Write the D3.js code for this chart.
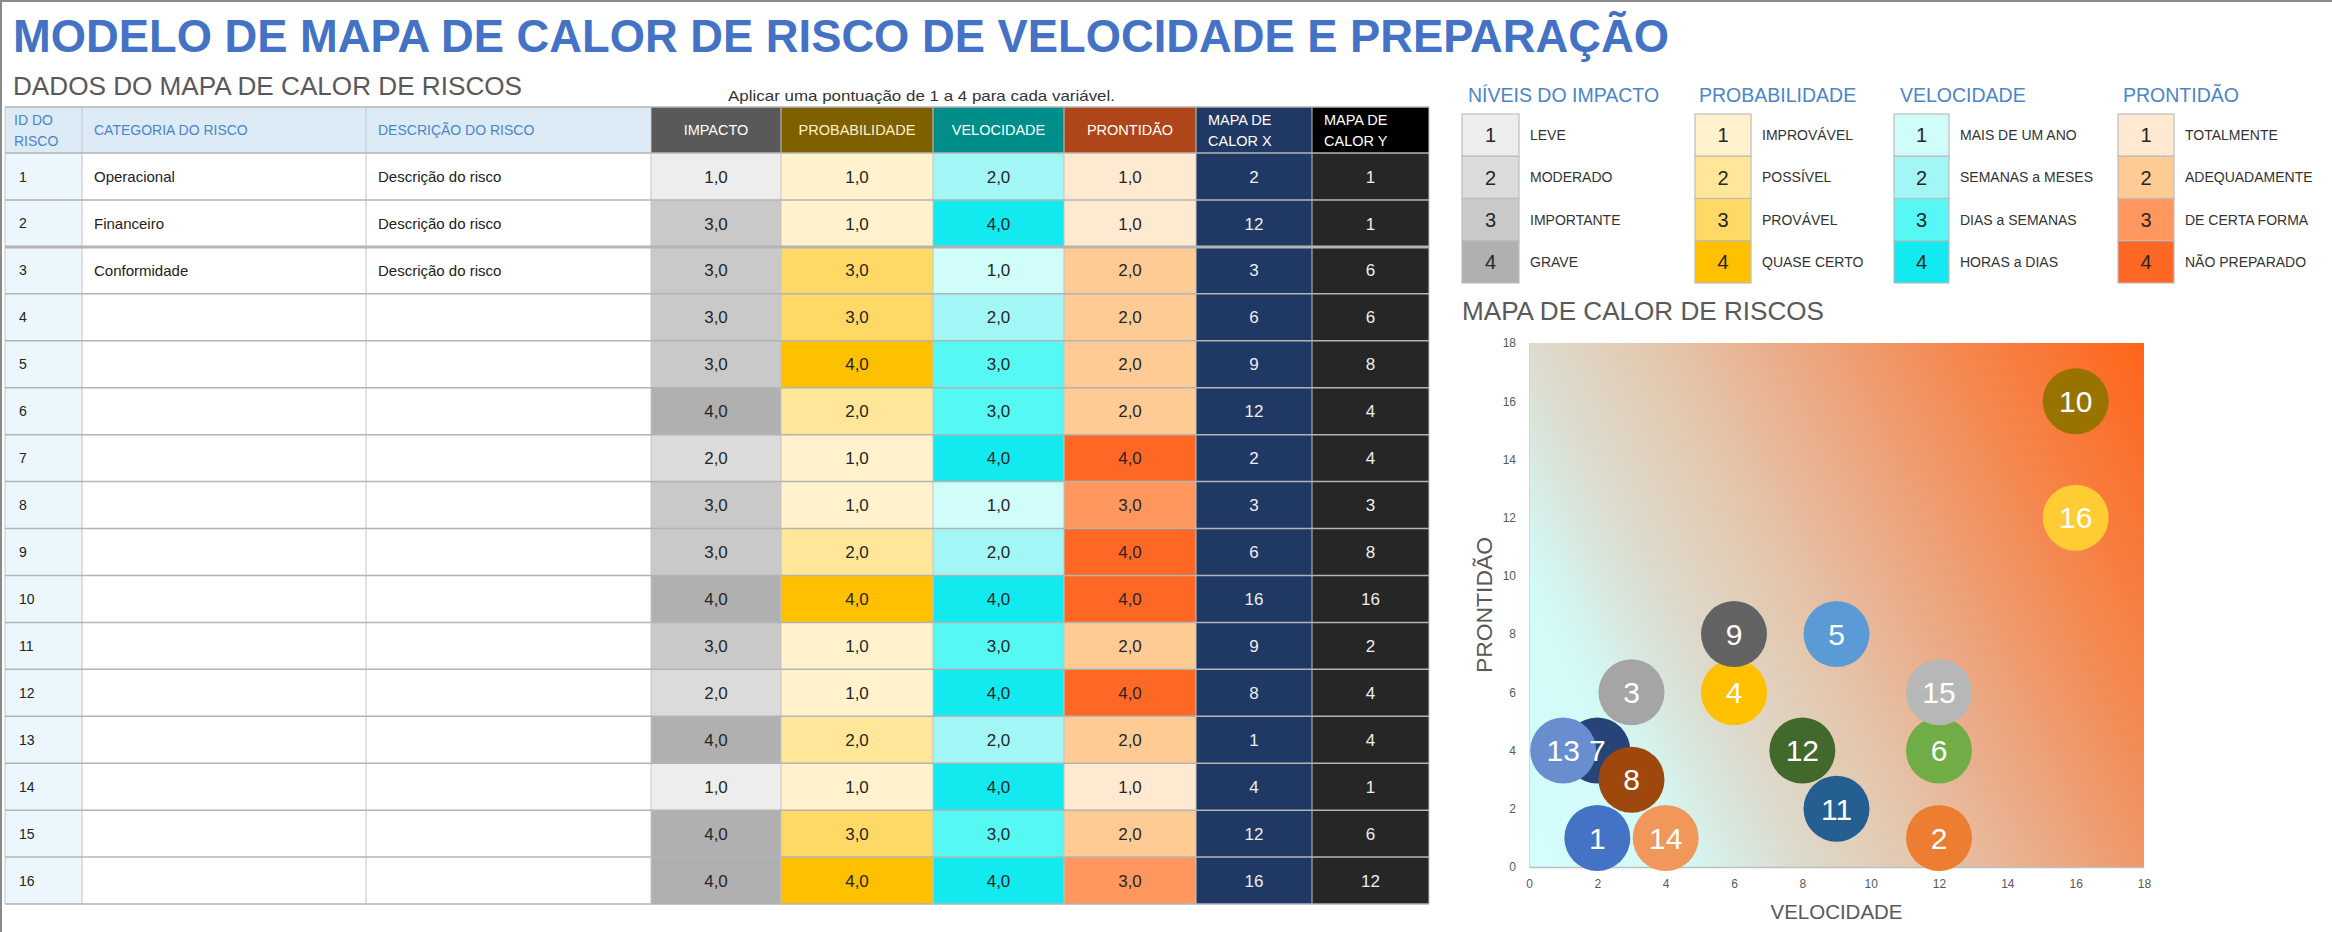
<!DOCTYPE html>
<html><head><meta charset="utf-8">
<script src="https://cdn.jsdelivr.net/npm/d3@7"></script>
<style>
body{margin:0;background:#fff}
svg{display:block}
text{font-family:"Liberation Sans",Arial,sans-serif}
</style>
</head><body>
<svg id="c" width="2332" height="932"></svg>
<script>
// ---------- DATA ----------
const riskIds = [1,2,3,4,5,6,7,8,9,10,11,12,13,14,15,16];
const categories = ["Operacional","Financeiro","Conformidade","","","","","","","","","","","","",""];
const descriptions = ["Descrição do risco","Descrição do risco","Descrição do risco","","","","","","","","","","","","",""];
const impacto       = [1,3,3,3,3,4,2,3,3,4,3,2,4,1,4,4];
const probabilidade = [1,1,3,3,4,2,1,1,2,4,1,1,2,1,3,4];
const velocidade    = [2,4,1,2,3,3,4,1,2,4,3,4,2,4,3,4];
const prontidao     = [1,1,2,2,2,2,4,3,4,4,2,4,2,1,2,3];
const mapaX = [2,12,3,6,9,12,2,3,6,16,9,8,1,4,12,16];
const mapaY = [1,1,6,6,8,4,4,3,8,16,2,4,4,1,6,12];

const headerLabels = [["ID DO","RISCO"],["CATEGORIA DO RISCO"],["DESCRIÇÃO DO RISCO"],["IMPACTO"],["PROBABILIDADE"],["VELOCIDADE"],["PRONTIDÃO"],["MAPA DE","CALOR X"],["MAPA DE","CALOR Y"]];

const legendTitles = ["NÍVEIS DO IMPACTO","PROBABILIDADE","VELOCIDADE","PRONTIDÃO"];
const legendLevels = [1,2,3,4];
const impactoLabels = ["LEVE","MODERADO","IMPORTANTE","GRAVE"];
const probLabels = ["IMPROVÁVEL","POSSÍVEL","PROVÁVEL","QUASE CERTO"];
const velLabels = ["MAIS DE UM ANO","SEMANAS a MESES","DIAS a SEMANAS","HORAS a DIAS"];
const prontLabels = ["TOTALMENTE","ADEQUADAMENTE","DE CERTA FORMA","NÃO PREPARADO"];

const axisTicks = [0,2,4,6,8,10,12,14,16,18];

// ---------- STYLE ----------
const impactColors = ["#EDEDED","#DBDBDB","#C9C9C9","#B0B0B0"];
const probColors   = ["#FFF2CC","#FFE699","#FFD966","#FFC000"];
const velColors    = ["#D0FCFA","#A2F6F5","#55F8F3","#12EAEF"];
const prontColors  = ["#FFE9D1","#FFCB94","#FF975E","#FF6824"];
const headerFills  = ["#DDEBF7","#DDEBF7","#DDEBF7","#595959","#7F6000","#008E8A","#AE4619","#203864","#000000"];
const headerText   = ["#4A86C8","#4A86C8","#4A86C8","#FFFFFF","#FFF2CC","#FFFFFF","#FFFFFF","#FFFFFF","#FFFFFF"];
const bubbleColors = ["#4472C4","#ED7D31","#A5A5A5","#FFC000","#5B9BD5","#70AD47","#264478","#9E480E","#636363","#997300","#255E91","#43682B","#698ED0","#F1975A","#B7B7B7","#FFCD33"];

const svg = d3.select("#c");

// ---------- TITLES ----------
svg.append("text").attr("x",13).attr("y",52).attr("font-size",47).attr("font-weight","bold")
  .attr("fill","#4472C4").attr("textLength",1656).attr("lengthAdjust","spacingAndGlyphs")
  .text("MODELO DE MAPA DE CALOR DE RISCO DE VELOCIDADE E PREPARAÇÃO");
svg.append("text").attr("x",13).attr("y",95).attr("font-size",25)
  .attr("fill","#595959").attr("textLength",509).attr("lengthAdjust","spacingAndGlyphs")
  .text("DADOS DO MAPA DE CALOR DE RISCOS");
svg.append("text").attr("x",728).attr("y",101).attr("font-size",15)
  .attr("fill","#333").attr("textLength",387).attr("lengthAdjust","spacingAndGlyphs")
  .text("Aplicar uma pontuação de 1 a 4 para cada variável.");

// ---------- TABLE ----------
const colEdges = [5,82,366,651,781,933,1064,1196,1312,1429];
const headTop = 107, headBot = 153, tableBot = 904;
const rowScale = d3.scaleBand().domain(riskIds).range([headBot, tableBot]).padding(0);
const rh = rowScale.bandwidth();

const table = svg.append("g");
headerLabels.forEach((lab,i)=>{
  const x0 = colEdges[i], x1 = colEdges[i+1];
  table.append("rect").attr("x",x0).attr("y",headTop).attr("width",x1-x0).attr("height",headBot-headTop).attr("fill",headerFills[i]);
  const dark = i>=3;
  const leftAlign = i<3 || i>=7;
  const tx = i<3 ? x0+ (i===0?9:12) : (i>=7 ? x0+12 : (x0+x1)/2);
  const lh = 21;
  const cy = (headTop+headBot)/2;
  lab.forEach((ln,k)=>{
    table.append("text").attr("x",tx).attr("y",cy + (k-(lab.length-1)/2)*lh)
      .attr("dy","0.36em").attr("text-anchor",leftAlign?"start":"middle")
      .attr("font-size", dark?14.5:14).attr("fill",headerText[i]).text(ln);
  });
});

const fmt = v => d3.format(".1f")(v).replace(".",",");
const rows = riskIds.map((id,i)=>({id, cat:categories[i], desc:descriptions[i], imp:impacto[i], prob:probabilidade[i], vel:velocidade[i], pront:prontidao[i], x:mapaX[i], y:mapaY[i]}));

const rowG = table.selectAll("g.row").data(rows).join("g").attr("class","row")
  .attr("transform",d=>`translate(0,${rowScale(d.id)})`);

const cellDefs = [
  {fill:()=> "#EBF7FD", text:d=>d.id, anchor:"start", dx:14, color:"#222", size:14},
  {fill:()=> "#FFFFFF", text:d=>d.cat, anchor:"start", dx:12, color:"#222", size:15},
  {fill:()=> "#FFFFFF", text:d=>d.desc, anchor:"start", dx:12, color:"#222", size:15},
  {fill:d=>impactColors[d.imp-1], text:d=>fmt(d.imp), anchor:"middle", color:"#262626", size:17},
  {fill:d=>probColors[d.prob-1], text:d=>fmt(d.prob), anchor:"middle", color:"#262626", size:17},
  {fill:d=>velColors[d.vel-1], text:d=>fmt(d.vel), anchor:"middle", color:"#262626", size:17},
  {fill:d=>prontColors[d.pront-1], text:d=>fmt(d.pront), anchor:"middle", color:"#262626", size:17},
  {fill:()=> "#203864", text:d=>d.x, anchor:"middle", color:"#EEEEEE", size:17},
  {fill:()=> "#262626", text:d=>d.y, anchor:"middle", color:"#EEEEEE", size:17}
];
cellDefs.forEach((c,i)=>{
  const x0 = colEdges[i], x1 = colEdges[i+1];
  rowG.append("rect").attr("x",x0).attr("y",0).attr("width",x1-x0).attr("height",rh).attr("fill",c.fill);
  rowG.append("text").attr("x", c.anchor==="start"? x0+c.dx : (x0+x1)/2).attr("y",rh/2).attr("dy","0.36em")
    .attr("text-anchor",c.anchor).attr("font-size",c.size).attr("fill",c.color).text(c.text);
});
colEdges.forEach(x=>{
  table.append("line").attr("x1",x).attr("x2",x).attr("y1",headTop).attr("y2",tableBot)
    .attr("stroke","#C4C4C4").attr("stroke-width",1);
});
const hLines = [headTop, ...riskIds.map(id=>rowScale(id)), tableBot];
hLines.forEach((y,k)=>{
  table.append("line").attr("x1",colEdges[0]).attr("x2",colEdges[colEdges.length-1]).attr("y1",y).attr("y2",y)
    .attr("stroke","#B4B4B4").attr("stroke-width", k===3?3:1.5);
});

// ---------- LEGENDS ----------
const legendDefs = [
  {title:legendTitles[0], labels:impactoLabels, colors:impactColors, bx:1462, bw:57, tx:1468},
  {title:legendTitles[1], labels:probLabels, colors:probColors, bx:1695, bw:56, tx:1699},
  {title:legendTitles[2], labels:velLabels, colors:velColors, bx:1894, bw:55, tx:1900},
  {title:legendTitles[3], labels:prontLabels, colors:prontColors, bx:2118, bw:56, tx:2123}
];
const legScale = d3.scaleBand().domain(legendLevels).range([114,283]).padding(0);
legendDefs.forEach(L=>{
  const g = svg.append("g");
  g.append("text").attr("x",L.tx).attr("y",102).attr("font-size",19.5).attr("fill","#4A86C8").text(L.title);
  legendLevels.forEach((lv,i)=>{
    const y0 = legScale(lv), h = legScale.bandwidth();
    g.append("rect").attr("x",L.bx).attr("y",y0).attr("width",L.bw).attr("height",h)
      .attr("fill",L.colors[i]).attr("stroke","#BDBDBD").attr("stroke-width",1.2);
    g.append("text").attr("x",L.bx+L.bw/2).attr("y",y0+h/2).attr("dy","0.36em").attr("text-anchor","middle")
      .attr("font-size",20).attr("fill","#262626").text(lv);
    g.append("text").attr("x",L.bx+L.bw+11).attr("y",y0+h/2).attr("dy","0.36em")
      .attr("font-size",14).attr("fill","#333").text(L.labels[i]);
  });
});

// ---------- CHART ----------
svg.append("text").attr("x",1462).attr("y",320).attr("font-size",25).attr("fill","#595959")
  .attr("textLength",362).attr("lengthAdjust","spacingAndGlyphs").text("MAPA DE CALOR DE RISCOS");

const x = d3.scaleLinear().domain([0,18]).range([1529,2144]);
const y = d3.scaleLinear().domain([0,18]).range([867,343]);

const defs = svg.append("defs");
const ang = 27*Math.PI/180, GL = 786;
const grad = defs.append("linearGradient").attr("id","bg").attr("gradientUnits","userSpaceOnUse")
  .attr("x1",x(0)).attr("y1",y(0)).attr("x2",x(0)+GL*Math.cos(ang)).attr("y2",y(0)-GL*Math.sin(ang));
[[0,"#D2FEFD"],[0.17,"#D3FAF7"],[0.30,"#DCDCCF"],[0.45,"#E4C6AC"],[0.6,"#EBA985"],[0.78,"#F4884F"],[1,"#FF6419"]]
  .forEach(s=>grad.append("stop").attr("offset",s[0]).attr("stop-color",s[1]));

svg.append("rect").attr("x",x(0)).attr("y",y(18)).attr("width",x(18)-x(0)).attr("height",y(0)-y(18)).attr("fill","url(#bg)");

const yAxis = svg.append("g").attr("transform",`translate(${x(0)},0)`)
  .call(d3.axisLeft(y).tickValues(axisTicks).tickSize(0).tickPadding(13));
const xAxis = svg.append("g").attr("transform",`translate(0,${y(0)})`)
  .call(d3.axisBottom(x).tickValues(axisTicks).tickSize(0).tickPadding(12));
[yAxis,xAxis].forEach(a=>{
  a.selectAll("text").attr("font-size",12).attr("fill","#595959").attr("font-family","Liberation Sans, Arial, sans-serif");
});
yAxis.select(".domain").attr("stroke","#D6D6D6");
xAxis.select(".domain").attr("stroke","#BFBFBF").attr("stroke-width",1.5);

svg.append("text").attr("x",(x(0)+x(18))/2).attr("y",919).attr("text-anchor","middle").attr("font-size",21)
  .attr("fill","#595959").attr("textLength",132).attr("lengthAdjust","spacingAndGlyphs").text("VELOCIDADE");
svg.append("text").attr("transform",`translate(1492,${(y(0)+y(18))/2}) rotate(-90)`).attr("text-anchor","middle")
  .attr("font-size",22).attr("fill","#595959").attr("textLength",136).attr("lengthAdjust","spacingAndGlyphs").text("PRONTIDÃO");

const pts = riskIds.map((id,i)=>({id, x:mapaX[i], y:mapaY[i], c:bubbleColors[i]}));
svg.append("g").selectAll("circle").data(pts).join("circle")
  .attr("cx",d=>x(d.x)).attr("cy",d=>y(d.y)).attr("r",33).attr("fill",d=>d.c);
svg.append("g").selectAll("text").data(pts).join("text")
  .attr("x",d=>x(d.x)).attr("y",d=>y(d.y)).attr("dy","0.36em").attr("text-anchor","middle")
  .attr("font-size",30).attr("fill","#FFFFFF").text(d=>d.id);

// frame (top and left edges only)
svg.append("line").attr("x1",0).attr("x2",2332).attr("y1",1).attr("y2",1).attr("stroke","#8A8A8A").attr("stroke-width",2);
svg.append("line").attr("x1",1).attr("x2",1).attr("y1",0).attr("y2",932).attr("stroke","#8A8A8A").attr("stroke-width",2);
</script>
</body></html>
